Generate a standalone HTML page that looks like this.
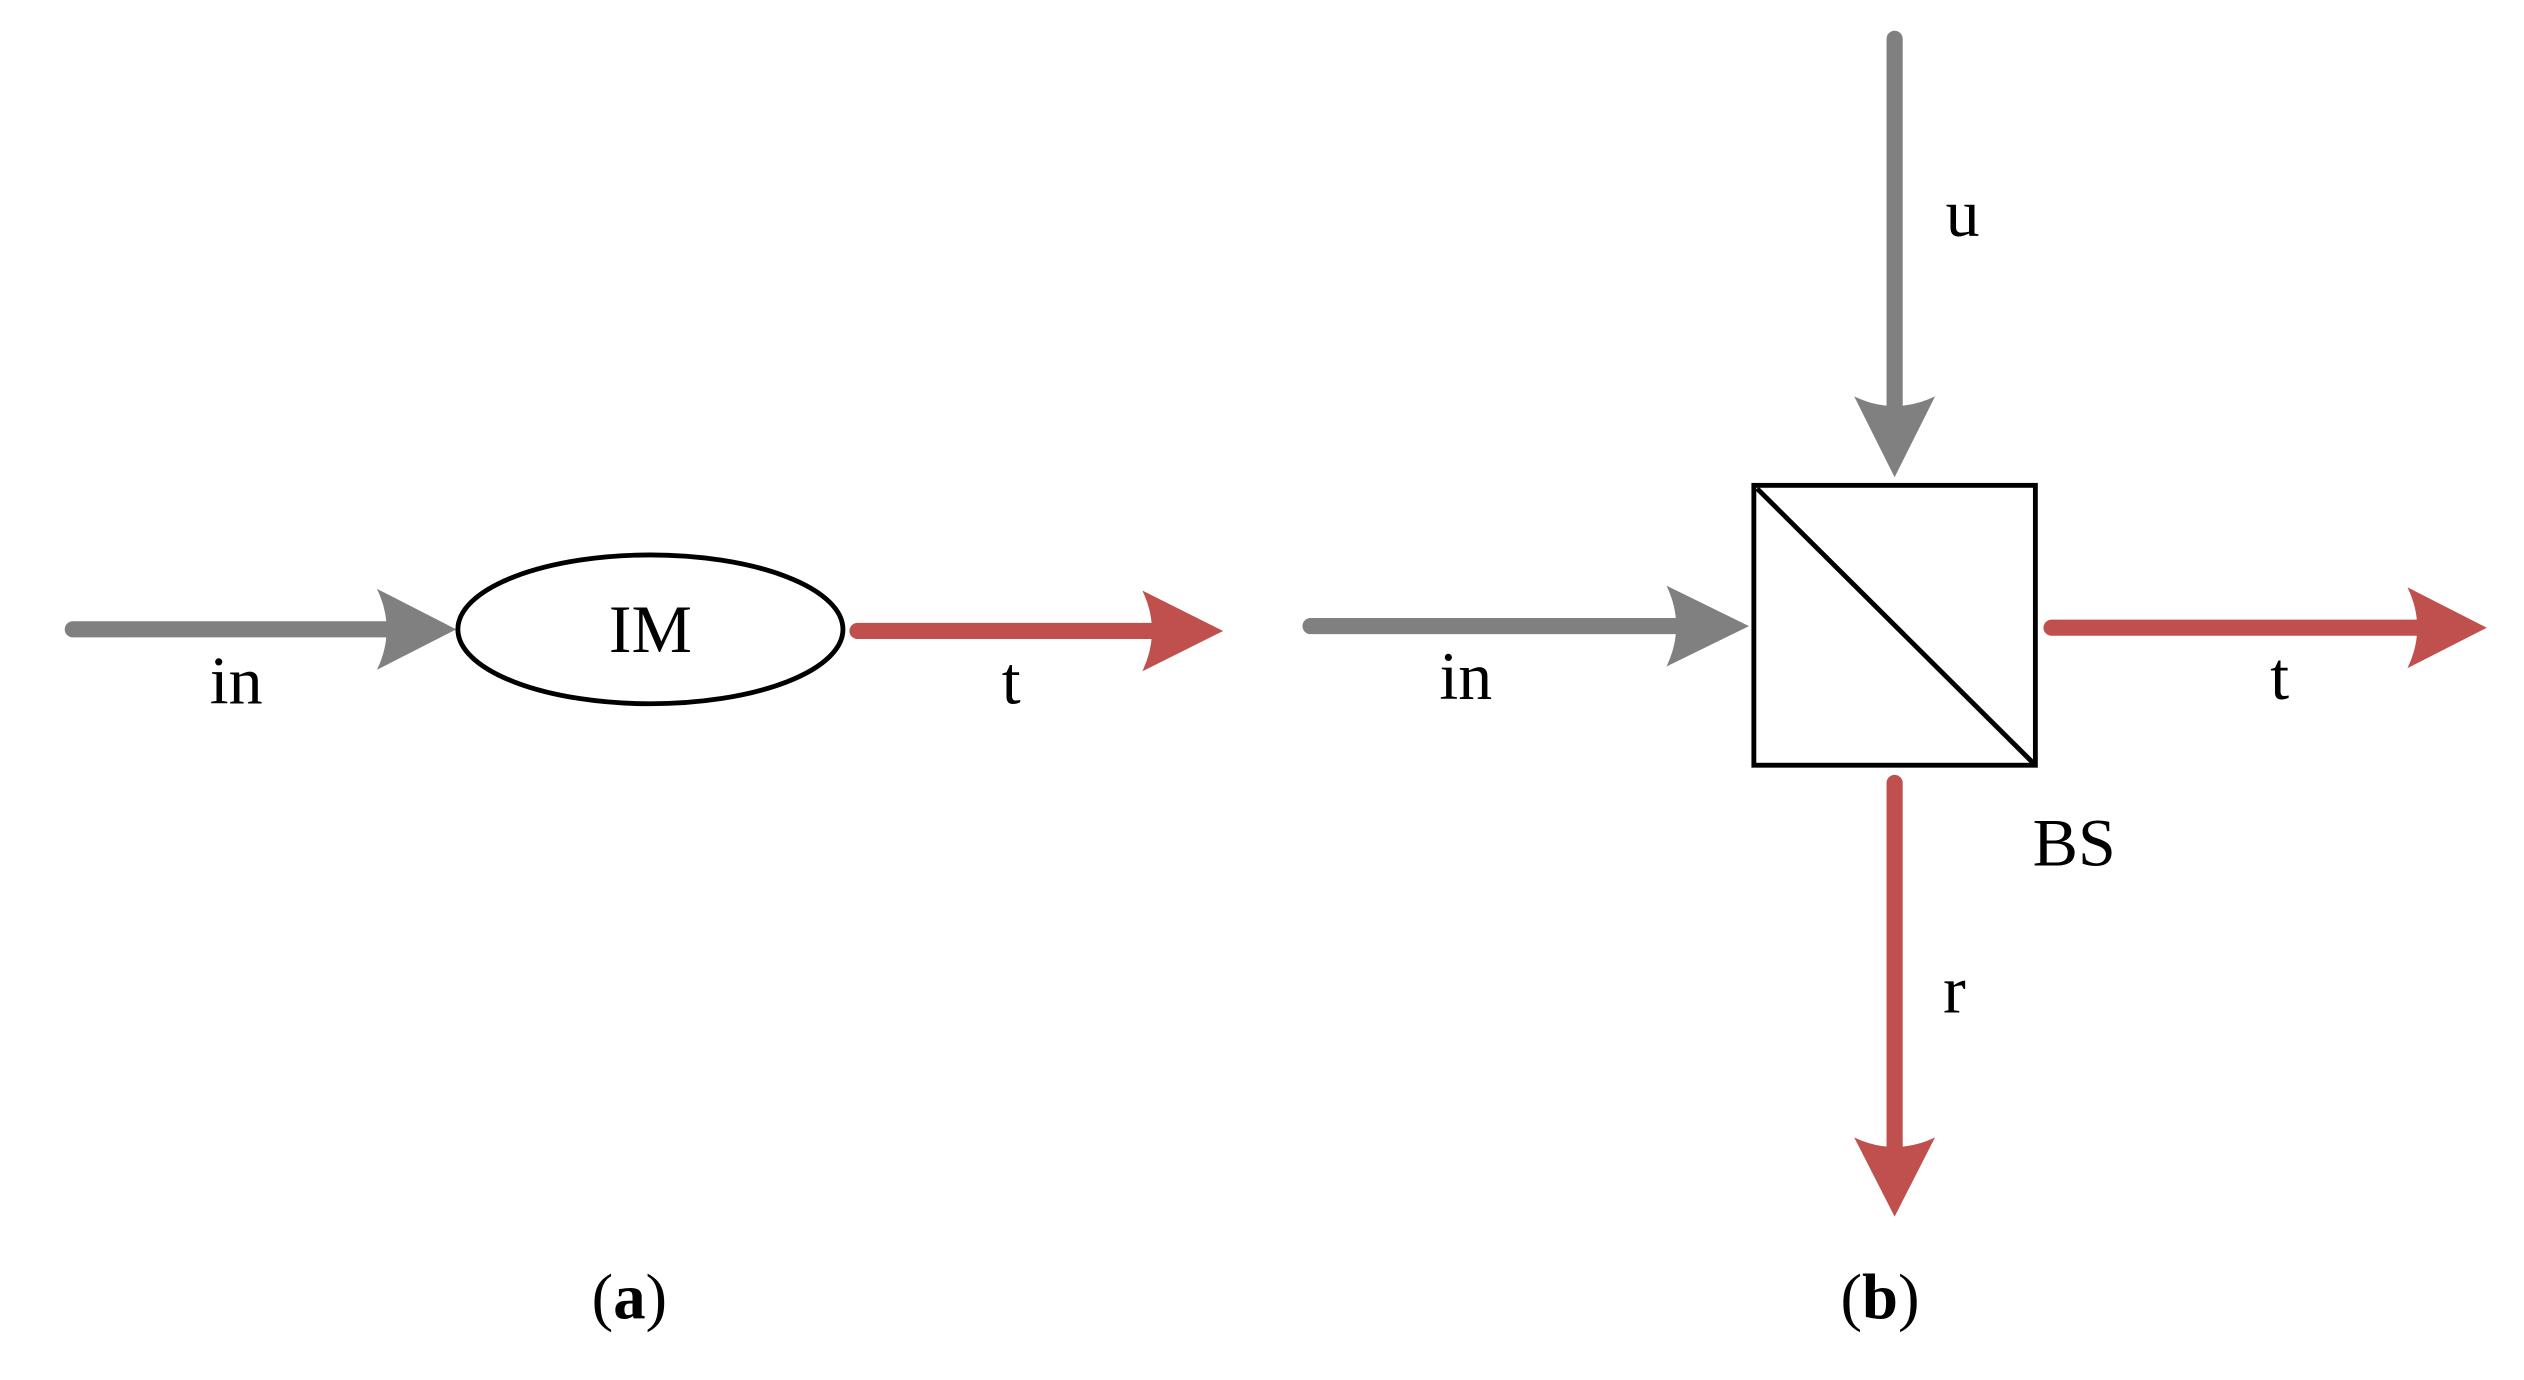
<!DOCTYPE html>
<html><head><meta charset="utf-8"><style>html,body{margin:0;padding:0;background:#fff;}svg{display:block}</style></head>
<body>
<svg width="2524" height="1380" viewBox="0 0 1560 853" preserveAspectRatio="none" xmlns="http://www.w3.org/2000/svg">
<g font-family="Liberation Serif, serif" fill="#000">
<!-- (a) -->
<line x1="45" y1="389" x2="240" y2="389" stroke="#808080" stroke-width="10" stroke-linecap="round"/>
<path d="M282,389 L233,364 Q245,389 233,414 Z" fill="#808080"/>
<ellipse cx="402" cy="389" rx="119" ry="46" fill="#fff" stroke="#000" stroke-width="3"/>
<line x1="530" y1="390" x2="712" y2="390" stroke="#c0504d" stroke-width="10" stroke-linecap="round"/>
<path d="M756,390 L706,365 Q718,390 706,415 Z" fill="#c0504d"/>
<text x="146" y="435" font-size="42" text-anchor="middle">in</text>
<text x="625" y="435" font-size="42" text-anchor="middle">t</text>
<text x="402" y="403" font-size="42" text-anchor="middle">IM</text>
<text x="389" y="815" font-size="40" text-anchor="middle">(<tspan font-weight="bold">a</tspan>)</text>
<!-- (b) -->
<line x1="810" y1="387" x2="1038" y2="387" stroke="#808080" stroke-width="10" stroke-linecap="round"/>
<path d="M1081,387 L1030,362 Q1042,387 1030,412 Z" fill="#808080"/>
<line x1="1171" y1="24" x2="1171" y2="252" stroke="#808080" stroke-width="10" stroke-linecap="round"/>
<path d="M1171,295 L1146,245 Q1171,257 1196,245 Z" fill="#808080"/>
<rect x="1084" y="300" width="174" height="173" fill="#fff" stroke="#000" stroke-width="3"/>
<line x1="1086" y1="302" x2="1257" y2="472" stroke="#000" stroke-width="3"/>
<line x1="1268" y1="388" x2="1494" y2="388" stroke="#c0504d" stroke-width="10" stroke-linecap="round"/>
<path d="M1537,388 L1488,363 Q1500,388 1488,413 Z" fill="#c0504d"/>
<line x1="1171" y1="484" x2="1171" y2="710" stroke="#c0504d" stroke-width="10" stroke-linecap="round"/>
<path d="M1171,752 L1146,703 Q1171,715 1196,703 Z" fill="#c0504d"/>
<text x="906" y="432" font-size="42" text-anchor="middle">in</text>
<text x="1409" y="432" font-size="42" text-anchor="middle">t</text>
<text x="1213" y="146" font-size="42" text-anchor="middle">u</text>
<text x="1208" y="626" font-size="42" text-anchor="middle">r</text>
<text x="1282" y="535" font-size="42" text-anchor="middle">BS</text>
<text x="1162" y="815" font-size="40" text-anchor="middle">(<tspan font-weight="bold">b</tspan>)</text>
</g>
</svg>
</body></html>
